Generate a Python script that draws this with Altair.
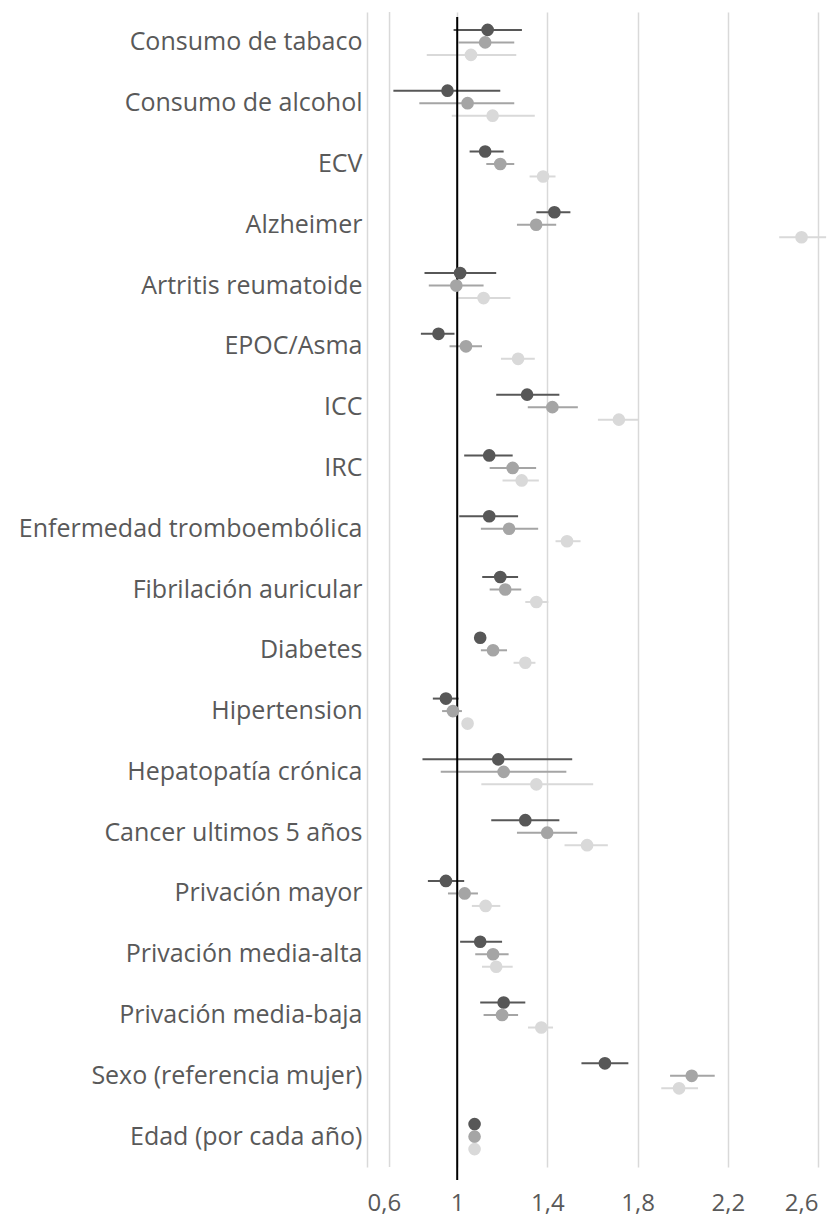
import altair as alt
import pandas as pd

categories = [
    "Consumo de tabaco", "Consumo de alcohol", "ECV", "Alzheimer",
    "Artritis reumatoide", "EPOC/Asma", "ICC", "IRC",
    "Enfermedad tromboembólica", "Fibrilación auricular", "Diabetes",
    "Hipertension", "Hepatopatía crónica", "Cancer ultimos 5 años",
    "Privación mayor", "Privación media-alta", "Privación media-baja",
    "Sexo (referencia mujer)", "Edad (por cada año)",
]
series = ["A", "B", "C"]

est_a = [1.135, 0.957, 1.124, 1.431, 1.013, 0.917, 1.310, 1.142, 1.142, 1.191,
         1.102, 0.950, 1.182, 1.302, 0.950, 1.102, 1.206, 1.655, 1.077]
lo_a = [0.984, 0.717, 1.055, 1.351, 0.855, 0.839, 1.173, 1.031, 1.009, 1.111,
        1.085, 0.892, 0.846, 1.151, 0.870, 1.013, 1.102, 1.551, 1.072]
hi_a = [1.287, 1.191, 1.206, 1.502, 1.173, 0.988, 1.453, 1.246, 1.270, 1.270,
        1.120, 1.006, 1.510, 1.453, 1.031, 1.199, 1.302, 1.759, 1.082]

est_b = [1.124, 1.046, 1.191, 1.350, 0.996, 1.039, 1.422, 1.246, 1.230, 1.213,
         1.159, 0.981, 1.206, 1.399, 1.033, 1.159, 1.199, 2.040, 1.077]
lo_b = [1.006, 0.832, 1.129, 1.265, 0.874, 0.966, 1.313, 1.144, 1.105, 1.144,
        1.105, 0.933, 0.927, 1.265, 0.959, 1.080, 1.117, 1.944, 1.072]
hi_b = [1.253, 1.253, 1.253, 1.439, 1.117, 1.110, 1.535, 1.350, 1.359, 1.284,
        1.221, 1.021, 1.484, 1.532, 1.092, 1.228, 1.270, 2.142, 1.082]

est_c = [1.061, 1.157, 1.381, 2.527, 1.117, 1.270, 1.717, 1.286, 1.487, 1.351,
         1.302, 1.046, 1.351, 1.576, 1.126, 1.173, 1.373, 1.984, 1.077]
lo_c = [0.865, 0.976, 1.321, 2.428, 1.000, 1.194, 1.624, 1.201, 1.436, 1.302,
        1.250, 1.030, 1.107, 1.476, 1.065, 1.110, 1.314, 1.905, 1.072]
hi_c = [1.262, 1.344, 1.436, 2.636, 1.236, 1.344, 1.806, 1.362, 1.547, 1.404,
        1.347, 1.062, 1.603, 1.668, 1.191, 1.246, 1.425, 2.068, 1.082]

colors = ["#575757", "#a5a5a5", "#d9d9d9"]
tick_values = [0.6, 1.0, 1.4, 1.8, 2.2, 2.6]
extra_grid = [0.7]
ref_value = [1.0]

rows = []
for s, est, lo, hi in zip(series, [est_a, est_b, est_c], [lo_a, lo_b, lo_c], [hi_a, hi_b, hi_c]):
    for c, e, l, h in zip(categories, est, lo, hi):
        rows.append({"cat": c, "serie": s, "est": e, "lo": l, "hi": h})
df = pd.DataFrame(rows)

FONT = "Open Sans"
W, H = 451, 1155

xscale = alt.Scale(domain=[0.6, 2.6], nice=False, zero=False)
yscale = alt.Scale(domain=categories, paddingInner=0, paddingOuter=0)
yoff = alt.YOffset("serie:N", scale=alt.Scale(domain=series, paddingInner=0, paddingOuter=0.932))
color = alt.Color("serie:N", scale=alt.Scale(domain=series, range=colors), legend=None)

base = alt.Chart(df)

grid = alt.Chart(pd.DataFrame({"g": extra_grid})).mark_rule(color="#d9d9d9", strokeWidth=1.5).encode(
    x=alt.X("g:Q", scale=xscale)
)

errs = base.mark_rule(strokeWidth=2).encode(
    x=alt.X("lo:Q", scale=xscale,
            axis=alt.Axis(values=tick_values, format=",.1~f", title=None, grid=True,
                          gridColor="#d9d9d9", gridWidth=1.5, ticks=False, domain=False,
                          labelFont=FONT, labelFontSize=24, labelColor="#595959",
                          labelPadding=24, labelExpr="replace(datum.label, '.', ',')")),
    x2="hi:Q",
    y=alt.Y("cat:N", scale=yscale, sort=categories,
            axis=alt.Axis(title=None, ticks=False, domain=False, grid=False, labelFont=FONT,
                          labelFontSize=25, labelColor="#595959", labelPadding=5,
                          labelLimit=400)),
    yOffset=yoff,
    color=color,
)

ref = alt.Chart(pd.DataFrame({"r": ref_value})).mark_rule(color="#000000", strokeWidth=2).encode(
    x=alt.X("r:Q", scale=xscale),
    y=alt.value(5),
    y2=alt.value(1168),
)

dots = base.mark_circle(size=160, opacity=1).encode(
    x=alt.X("est:Q", scale=xscale),
    y=alt.Y("cat:N", scale=yscale, sort=categories),
    yOffset=yoff,
    color=color,
)

chart = alt.layer(grid, errs, ref, dots).properties(
    width=W, height=H,
    background="white",
    autosize=alt.AutoSizeParams(type="none"),
    padding={"left": 359, "top": 4, "right": 12, "bottom": 49},
).configure_view(strokeWidth=0, stroke="transparent")

chart.save("out.html", embed_options={"renderer": "svg", "actions": False})
